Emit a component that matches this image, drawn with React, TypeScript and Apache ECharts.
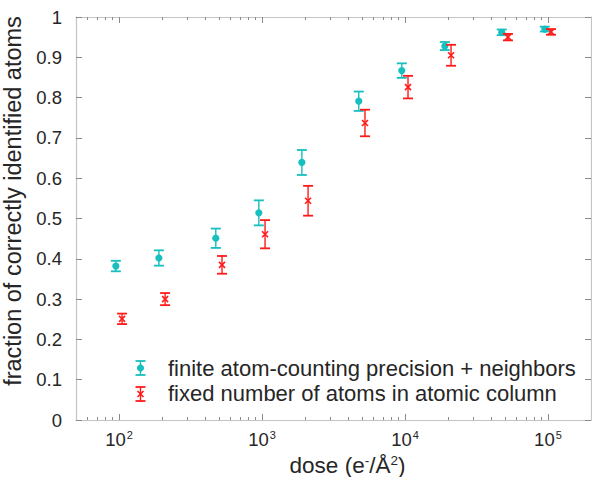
import React, { useEffect, useRef } from "react";
import * as echarts from "echarts";

const cyanDose = [95, 190, 475, 950, 1900, 4750, 9500, 19000, 47500, 95000];
const cyanFrac = [0.382, 0.402, 0.451, 0.514, 0.639, 0.791, 0.867, 0.928, 0.962, 0.970];
const cyanErr = [0.013, 0.019, 0.024, 0.031, 0.031, 0.024, 0.018, 0.010, 0.007, 0.006];

const redDose = [105, 210, 525, 1050, 2100, 5250, 10500, 21000, 52500, 105000];
const redFrac = [0.251, 0.300, 0.385, 0.461, 0.544, 0.737, 0.826, 0.905, 0.950, 0.963];
const redErr = [0.013, 0.015, 0.022, 0.035, 0.037, 0.033, 0.028, 0.026, 0.008, 0.007];

const majorX = [100, 1000, 10000, 100000];
const minorX = [60, 70, 80, 90, 200, 300, 400, 500, 600, 700, 800, 900, 2000, 3000, 4000, 5000, 6000, 7000, 8000, 9000, 20000, 30000, 40000, 50000, 60000, 70000, 80000, 90000];
const yTicks = [0, 0.1, 0.2, 0.3, 0.4, 0.5, 0.6, 0.7, 0.8, 0.9, 1];

const legendLabels = [
  "finite atom-counting precision + neighbors",
  "fixed number of atoms in atomic column",
];

const CYAN = "#17bfbf";
const RED = "#ff1a1a";
const TEXT = "#262626";
const FRAME = "#c4c4c4";
const TICK = "#8a8a8a";
const FONT = "Liberation Sans, Arial, sans-serif";

function markerChildren(cx: number, cy: number, lo: number, hi: number, color: string, marker: "circle" | "x") {
  const hw = 5;
  const children: any[] = [
    { type: "line", shape: { x1: cx, y1: lo, x2: cx, y2: hi }, style: { stroke: color, lineWidth: 1.4 } },
    { type: "line", shape: { x1: cx - hw, y1: lo, x2: cx + hw, y2: lo }, style: { stroke: color, lineWidth: 1.8 } },
    { type: "line", shape: { x1: cx - hw, y1: hi, x2: cx + hw, y2: hi }, style: { stroke: color, lineWidth: 1.8 } },
  ];
  if (marker === "circle") {
    children.push({ type: "circle", shape: { cx, cy, r: 3.6 }, style: { fill: color } });
  } else {
    const m = 3;
    children.push({ type: "line", shape: { x1: cx - m, y1: cy - m, x2: cx + m, y2: cy + m }, style: { stroke: color, lineWidth: 1.6 } });
    children.push({ type: "line", shape: { x1: cx - m, y1: cy + m, x2: cx + m, y2: cy - m }, style: { stroke: color, lineWidth: 1.6 } });
  }
  return children;
}

function errorBarSeries(name: string, xs: number[], ys: number[], es: number[], color: string, marker: "circle" | "x") {
  return {
    type: "custom",
    name,
    xAxisIndex: 0,
    yAxisIndex: 0,
    data: xs.map((x, i) => [x, ys[i], ys[i] - es[i], ys[i] + es[i]]),
    renderItem: (params: any, api: any) => {
      const x = api.value(0);
      const c = api.coord([x, api.value(1)]);
      const lo = api.coord([x, api.value(2)]);
      const hi = api.coord([x, api.value(3)]);
      return { type: "group", children: markerChildren(c[0], c[1], lo[1], hi[1], color, marker) };
    },
    z: 5,
  };
}

function legendIcon(x: number, y: number, color: string, marker: "circle" | "x") {
  return { type: "group", children: markerChildren(x, y, y + 7, y - 7, color, marker) };
}

const tickRich = {
  b: { fontSize: 18.5, fontFamily: FONT, color: TEXT },
  s: { fontSize: 11, fontFamily: FONT, color: TEXT, padding: [0, 0, 9, 1] },
};
const nameRich = {
  b: { fontSize: 22.5, fontFamily: FONT, color: TEXT },
  s: { fontSize: 13.5, fontFamily: FONT, color: TEXT, padding: [0, 0, 10, 0] },
};

function xAxisBase(pos: "bottom" | "top", values: number[], len: number, showLine: boolean, showLabel: boolean) {
  return {
    type: "log",
    logBase: 10,
    position: pos,
    min: 50,
    max: 200000,
    axisLine: { show: showLine, lineStyle: { color: FRAME, width: 1.2 } },
    axisTick: { show: true, inside: true, length: len, customValues: values, lineStyle: { color: TICK, width: 1 } },
    axisLabel: showLabel
      ? {
          show: true,
          customValues: values,
          margin: 9,
          formatter: (v: number) => `{b|10}{s|${Math.round(Math.log10(v))}}`,
          rich: tickRich,
        }
      : { show: false },
    splitLine: { show: false },
  };
}

export default function App() {
  const ref = useRef<HTMLDivElement>(null);
  useEffect(() => {
    if (!ref.current) return;
    const chart = echarts.init(ref.current, undefined, { renderer: "svg" });
    const option: any = {
      animation: false,
      backgroundColor: "#ffffff",
      textStyle: { fontFamily: FONT },
      grid: { left: 76, right: 1, top: 17, bottom: 57, containLabel: false, outerBoundsMode: "none" },
      xAxis: [
        {
          ...xAxisBase("bottom", majorX, 6, true, true),
          name: "{b|dose (e}{s|-}{b|/Å}{s|2}{b|)}",
          nameLocation: "middle",
          nameGap: 30,
          nameTextStyle: { fontSize: 22.5, color: TEXT, fontFamily: FONT, rich: nameRich, padding: [0, 0, 0, 28] },
        },
        xAxisBase("bottom", minorX, 3, false, false),
        xAxisBase("top", majorX, 6, true, false),
        xAxisBase("top", minorX, 3, false, false),
      ],
      yAxis: [
        {
          type: "value",
          position: "left",
          min: 0,
          max: 1,
          interval: 0.1,
          name: "fraction of correctly identified atoms",
          nameLocation: "middle",
          nameGap: 36,
          nameTextStyle: { fontSize: 23.5, color: TEXT, fontFamily: FONT, padding: [0, 0, 0, 35] },
          axisLine: { show: true, lineStyle: { color: FRAME, width: 1.2 } },
          axisTick: { show: true, inside: true, length: 6, customValues: yTicks, lineStyle: { color: TICK } },
          axisLabel: {
            customValues: yTicks,
            fontSize: 18.5,
            color: TEXT,
            fontFamily: FONT,
            margin: 14,
            formatter: (v: number) => (v === 0 ? "0" : v === 1 ? "1" : v.toFixed(1)),
          },
          splitLine: { show: false },
        },
        {
          type: "value",
          position: "right",
          min: 0,
          max: 1,
          interval: 0.1,
          axisLine: { show: true, lineStyle: { color: FRAME, width: 1.2 } },
          axisTick: { show: true, inside: true, length: 6, lineStyle: { color: TICK } },
          axisLabel: { show: false },
          splitLine: { show: false },
        },
      ],
      series: [
        errorBarSeries(legendLabels[0], cyanDose, cyanFrac, cyanErr, CYAN, "circle"),
        errorBarSeries(legendLabels[1], redDose, redFrac, redErr, RED, "x"),
      ],
      graphic: [
        legendIcon(140.5, 368, CYAN, "circle"),
        legendIcon(140.5, 394, RED, "x"),
        { type: "text", x: 168, y: 368, style: { text: legendLabels[0], fill: TEXT, fontSize: 22, fontFamily: FONT, verticalAlign: "middle" } },
        { type: "text", x: 168, y: 393, style: { text: legendLabels[1], fill: TEXT, fontSize: 22, fontFamily: FONT, verticalAlign: "middle" } },
      ],
    };
    chart.setOption(option);
    return () => chart.dispose();
  }, []);
  return <div ref={ref} style={{ width: 592, height: 477, position: "absolute", left: 0, top: 0 }} />;
}
